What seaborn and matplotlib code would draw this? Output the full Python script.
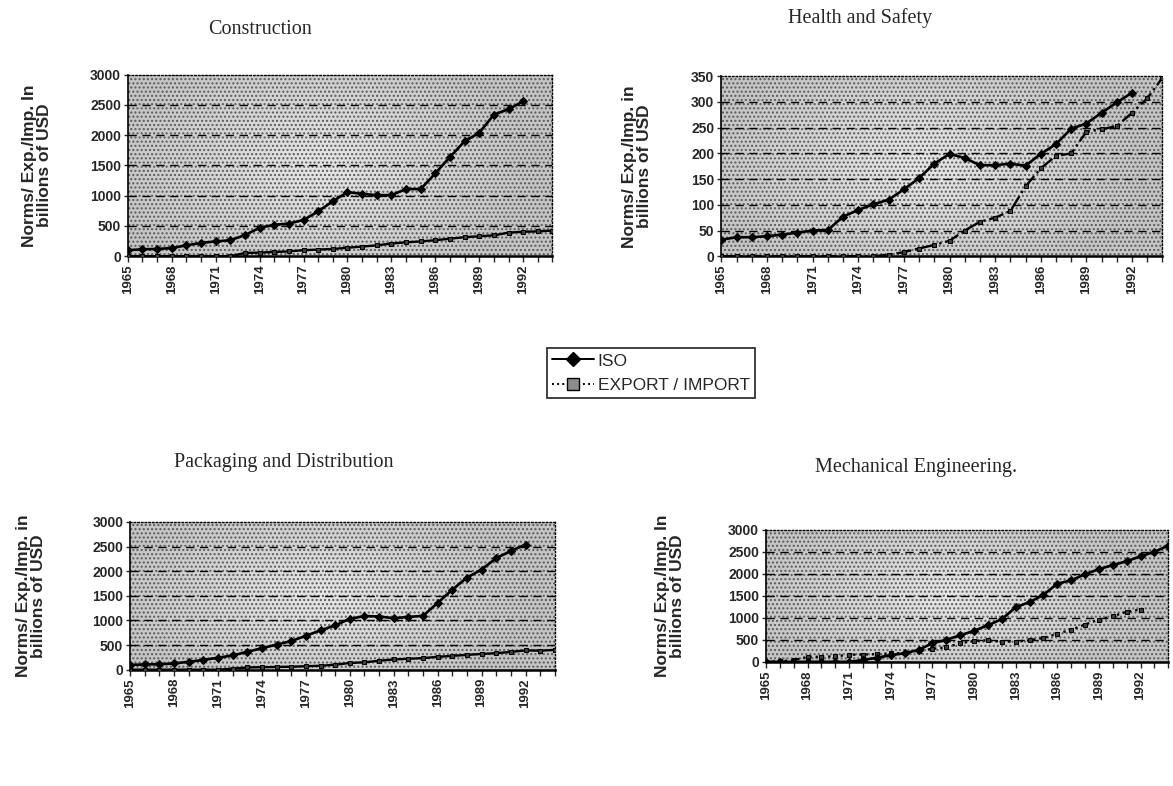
import numpy as np
import pandas as pd
import matplotlib
matplotlib.use("Agg")
import matplotlib.pyplot as plt
import seaborn as sns
from matplotlib.lines import Line2D
from matplotlib.patches import Rectangle

# data
years = list(range(1965, 1995))

constr_iso = [100, 115, 120, 135, 180, 220, 245, 265, 350, 470, 520, 540, 600, 740,
              910, 1060, 1030, 1010, 1010, 1110, 1110, 1370, 1640, 1900, 2040, 2340,
              2430, 2560]
constr_exp = [0, 0, 0, 0, 0, 0, 0, 0, 55, 60, 70, 80, 100, 110, 120, 140, 160, 180,
              210, 230, 245, 265, 290, 315, 330, 345, 390, 405, 410, 425]

health_iso = [32, 37, 37, 39, 42, 46, 50, 51, 77, 90, 101, 110, 130, 152, 180, 199,
              191, 177, 177, 180, 176, 199, 218, 248, 258, 279, 299, 318]
health_exp = [0, 0, 0, 0, 0, 0, 0, 0, 0, 0, 0, 3, 8, 15, 22, 30, 50, 67, 75, 88,
              136, 171, 195, 200, 242, 247, 253, 279, 307, 347]

pack_iso = [97, 106, 111, 126, 160, 198, 242, 290, 363, 436, 508, 581, 687, 799, 900,
            1031, 1089, 1079, 1045, 1070, 1094, 1355, 1626, 1868, 2033, 2265, 2410, 2541]
pack_exp = [0, 0, 0, 0, 0, 0, 0, 20, 45, 50, 55, 60, 70, 80, 100, 136, 150, 180, 208,
            220, 235, 261, 280, 300, 319, 335, 360, 392, 385, 402]

mech_iso = [0, 0, 0, 0, 0, 0, 0, 41, 92, 153, 194, 270, 423, 500, 602, 704, 831, 969,
            1239, 1357, 1520, 1775, 1851, 1989, 2106, 2198, 2285, 2397, 2499, 2642]
mech_exp = [0, 10, 40, 110, 115, 125, 160, 165, 175, 190, 195, 250, 296, 331, 420,
            474, 490, 459, 459, 490, 541, 637, 729, 847, 959, 1035, 1137, 1188]

titles = ["Construction", "Health and Safety", "Packaging and Distribution",
          "Mechanical Engineering."]
ylabels = ["Norms/ Exp./Imp. In\nbillions of USD", "Norms/ Exp./Imp. in\nbillions of USD",
           "Norms/ Exp./Imp. in\nbillions of USD", "Norms/ Exp./Imp. In\nbillions of USD"]
iso_series = [constr_iso, health_iso, pack_iso, mech_iso]
exp_series = [constr_exp, health_exp, pack_exp, mech_exp]
ymax = [3000, 350, 3000, 3000]
ystep = [500, 50, 500, 500]
year_ticks = list(range(1965, 1993, 3))

sns.set_style("white")
plt.rcParams['font.family'] = ['Liberation Sans', 'DejaVu Sans']

fig = plt.figure(figsize=(11.73, 7.86), dpi=100)
positions = [[0.109, 0.674, 0.362, 0.231],
             [0.615, 0.674, 0.376, 0.229],
             [0.111, 0.148, 0.362, 0.188],
             [0.653, 0.158, 0.343, 0.168]]
exp_styles = ['-', '-.', '-', ':']
title_pos = [(0.222, 0.962), (0.733, 0.977), (0.242, 0.412), (0.781, 0.405)]
label_pads = [27, 28, 33, 31]

# stipple background shading: lighter in the middle, darker at the edges
gx = np.linspace(-1, 1, 200)
gy = np.linspace(-1, 1, 100)
GX, GY = np.meshgrid(gx, gy)
shade = 0.9 - 0.13 * np.clip(np.sqrt((GX + 0.1) ** 2 + 0.5 * GY ** 2), 0, 1)

for i in range(4):
    ax = fig.add_axes(positions[i])
    ax.imshow(shade, extent=[0, 1, 0, 1], transform=ax.transAxes, aspect='auto',
              cmap='gray', vmin=0, vmax=1, zorder=0)
    ax.add_patch(Rectangle((0, 0), 1, 1, transform=ax.transAxes, fill=False,
                           hatch='....', edgecolor='0.35', lw=0, zorder=0.5))

    n_iso = len(iso_series[i])
    n_exp = len(exp_series[i])
    df_iso = pd.DataFrame({'year': years[:n_iso], 'value': iso_series[i]})
    df_exp = pd.DataFrame({'year': years[:n_exp], 'value': exp_series[i]})
    sns.lineplot(data=df_exp, x='year', y='value', ax=ax, color='black',
                 linestyle=exp_styles[i], linewidth=1.7, marker='s', markersize=3.3,
                 markerfacecolor='0.25', markeredgecolor='black', zorder=3)
    sns.lineplot(data=df_iso, x='year', y='value', ax=ax, color='black',
                 linestyle='-', linewidth=1.9, marker='D', markersize=4,
                 markerfacecolor='black', markeredgecolor='black', zorder=4)

    ax.set_xlim(1965, 1994)
    ax.set_ylim(0, ymax[i])
    ax.set_yticks(np.arange(0, ymax[i] + 1, ystep[i]))
    for yv in np.arange(ystep[i], ymax[i], ystep[i]):
        ax.axhline(yv, color='black', linestyle=(0, (6, 4)), linewidth=1.0, zorder=1)
    ax.set_xticks(year_ticks)
    ax.set_xticks(years, minor=True)
    ax.set_xticklabels([str(y) for y in year_ticks], rotation=90, fontsize=9.5,
                       fontweight='bold')
    for lab in ax.get_yticklabels():
        lab.set_fontsize(10)
        lab.set_fontweight('bold')
    ax.tick_params(axis='x', which='both', direction='out', length=4, width=1,
                   bottom=True, pad=2)
    ax.tick_params(axis='y', direction='out', length=3, width=1, left=True, pad=2)
    ax.set_xlabel('')
    ax.set_ylabel(ylabels[i], fontsize=12.5, fontweight='bold',
                  labelpad=label_pads[i], linespacing=1.0)

    ax.spines['left'].set_linewidth(1.2)
    ax.spines['bottom'].set_linewidth(1.8)
    for s in ['top', 'right']:
        ax.spines[s].set_linestyle(':')
        ax.spines[s].set_linewidth(1.0)
    for s in ax.spines.values():
        s.set_color('black')

    fig.text(title_pos[i][0], title_pos[i][1], titles[i], fontsize=14.5,
             family='Liberation Serif', ha='center', va='center')

handles = [Line2D([], [], color='black', linestyle='-', marker='D', markersize=7,
                  linewidth=1.4),
           Line2D([], [], color='black', linestyle=':', marker='s', markersize=8,
                  markerfacecolor='0.55', markeredgecolor='black', linewidth=1.4)]
leg = fig.legend(handles, ['ISO', 'EXPORT / IMPORT'], loc='center',
                 bbox_to_anchor=(0.555, 0.525), frameon=True, fancybox=False,
                 fontsize=12.5, handlelength=2.4, borderpad=0.3, labelspacing=0.55,
                 handletextpad=0.2, borderaxespad=0)
leg.get_frame().set_edgecolor('black')
leg.get_frame().set_linewidth(1.3)

fig.savefig("out.png", dpi=100)
